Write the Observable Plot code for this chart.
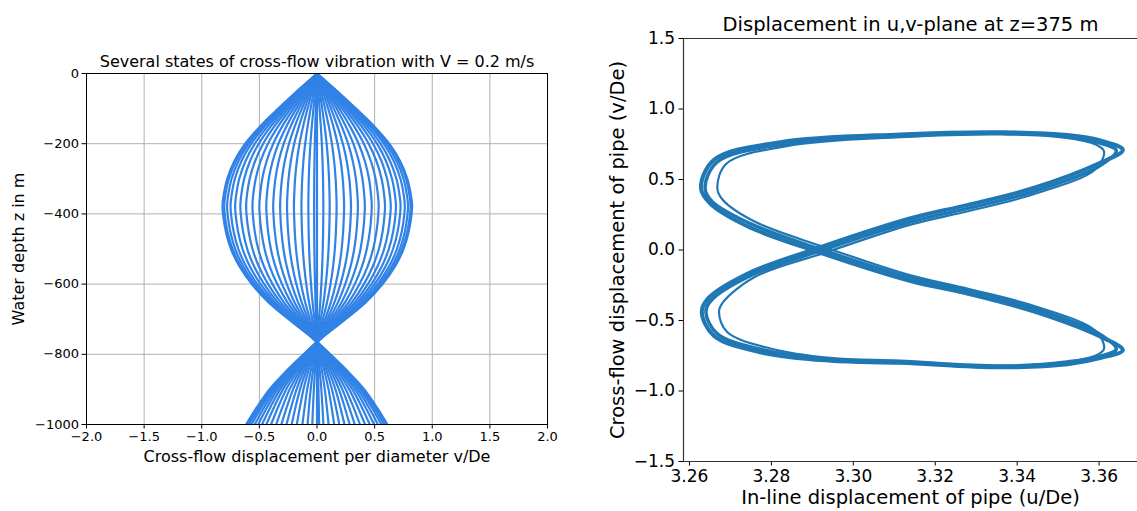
<!DOCTYPE html>
<html><head><meta charset="utf-8">
<script src="https://cdn.jsdelivr.net/npm/d3@7"></script>
<script src="https://cdn.jsdelivr.net/npm/@observablehq/plot@0.6"></script>
<style>
body{margin:0;background:#fff;width:1137px;height:511px;overflow:hidden;position:relative;font-family:"DejaVu Sans",sans-serif;}
#left{position:absolute;left:0;top:0;}
#right{position:absolute;left:580px;top:0;}
</style></head><body>
<div id="left"></div><div id="right"></div>
<script>
// ---------- Left panel data ----------
const leftTitle = "Several states of cross-flow vibration with V = 0.2 m/s";
const leftXLabel = "Cross-flow displacement per diameter v/De";
const leftYLabel = "Water depth z in m";
const leftXTicks = [-2, -1.5, -1, -0.5, 0, 0.5, 1, 1.5, 2];
const leftYTicks = [0, -200, -400, -600, -800, -1000];
// mode shape (normalised to peak = 1)
const shapeDepth = [0, -25, -50, -100, -150, -200, -250, -300, -350, -375, -400, -450, -500, -550, -600, -650, -700, -740, -765, -800, -850, -900, -950, -1000];
const shapeValue = [0, 0.105, 0.21, 0.41, 0.6, 0.76, 0.875, 0.95, 0.99, 1.0, 0.995, 0.965, 0.91, 0.82, 0.69, 0.52, 0.3, 0.11, 0, -0.14, -0.33, -0.5, -0.63, -0.745];
// peak amplitude (v/De) of each plotted state
const stateAmplitude = [0.825, 0.812, 0.79, 0.762, 0.725, 0.685, 0.64, 0.59, 0.535, 0.475, 0.415, 0.355, 0.295, 0.235, 0.17, 0.11, 0.055, 0.0,
  -0.82, -0.805, -0.78, -0.75, -0.71, -0.665, -0.615, -0.56, -0.50, -0.44, -0.38, -0.32, -0.26, -0.20, -0.135, -0.075, -0.025];

// ---------- Right panel data ----------
const rightTitle = "Displacement in u,v-plane at z=375 m";
const rightXLabel = "In-line displacement of pipe (u/De)";
const rightYLabel = "Cross-flow displacement of pipe (v/De)";
const rightXTicks = [3.26, 3.28, 3.30, 3.32, 3.34, 3.36];
const rightYTicks = [-1.5, -1.0, -0.5, 0.0, 0.5, 1.0, 1.5];
const loopA_u = [3.2920, 3.3140, 3.3280, 3.3440, 3.3600, 3.3658, 3.3605, 3.3523, 3.3359, 3.3115, 3.2822, 3.2660, 3.2628, 3.2650, 3.2740, 3.2920, 3.3140, 3.3280, 3.3440, 3.3600, 3.3658, 3.3605, 3.3523, 3.3359, 3.3115, 3.2944, 3.2781, 3.2660, 3.2630, 3.2645, 3.2740];
const loopA_v = [0.02, 0.225, 0.32, 0.44, 0.615, 0.71, 0.775, 0.815, 0.835, 0.82, 0.765, 0.64, 0.44, 0.33, 0.17, -0.02, -0.22, -0.31, -0.435, -0.61, -0.71, -0.765, -0.81, -0.832, -0.80, -0.785, -0.73, -0.61, -0.44, -0.345, -0.17];
const loopB_u = [3.2925, 3.3140, 3.3280, 3.3440, 3.3598, 3.3642, 3.3600, 3.3520, 3.3359, 3.3115, 3.2830, 3.2668, 3.2638, 3.2655, 3.2750, 3.2925, 3.3140, 3.3280, 3.3440, 3.3598, 3.3642, 3.3600, 3.3520, 3.3359, 3.3115, 3.2944, 3.2790, 3.2668, 3.2640, 3.2652, 3.2750];
const loopB_v = [0.0, 0.20, 0.295, 0.415, 0.59, 0.705, 0.76, 0.805, 0.828, 0.81, 0.75, 0.625, 0.44, 0.345, 0.185, 0.0, -0.197, -0.29, -0.412, -0.59, -0.705, -0.755, -0.80, -0.825, -0.792, -0.775, -0.715, -0.595, -0.44, -0.36, -0.18];
const loopC_u = [3.2930, 3.3140, 3.3280, 3.3440, 3.3592, 3.3612, 3.3592, 3.3515, 3.3359, 3.3115, 3.2840, 3.2690, 3.2668, 3.2680, 3.2760, 3.2930, 3.3140, 3.3280, 3.3440, 3.3592, 3.3612, 3.3592, 3.3515, 3.3359, 3.3115, 3.2944, 3.2800, 3.2692, 3.2672, 3.2682, 3.2760];
const loopC_v = [-0.02, 0.18, 0.275, 0.395, 0.575, 0.70, 0.748, 0.797, 0.82, 0.80, 0.738, 0.612, 0.44, 0.36, 0.20, 0.02, -0.18, -0.275, -0.395, -0.575, -0.70, -0.748, -0.792, -0.818, -0.785, -0.765, -0.70, -0.582, -0.44, -0.37, -0.19];

// ---------- helpers ----------
const minus = s => s.replace("-", "\u2212");
const leftRows = [];
stateAmplitude.forEach((a, k) => shapeDepth.forEach((z, i) => leftRows.push({k, z, v: a * shapeValue[i]})));
const toRows = (us, vs) => us.map((u, i) => ({u, v: vs[i]}));

const font = "DejaVu Sans";

const left = Plot.plot({
  width: 560, height: 480,
  marginLeft: 86, marginRight: 13, marginTop: 73, marginBottom: 56,
  style: {fontFamily: font, fontSize: "13px", color: "#000", background: "#fff", overflow: "visible"},
  x: {domain: [-2, 2], ticks: leftXTicks, tickFormat: d => minus(d.toFixed(1)), tickSize: 4.5, tickPadding: 3, label: null},
  y: {domain: [-1000, 0], ticks: leftYTicks, tickFormat: d => minus(String(d)), tickSize: 4.5, tickPadding: 3, label: null},
  marks: [
    Plot.ruleX(leftXTicks, {stroke: "#b0b0b0", strokeWidth: 1}),
    Plot.ruleY(leftYTicks, {stroke: "#b0b0b0", strokeWidth: 1}),
    Plot.line(leftRows, {x: "v", y: "z", z: "k", stroke: "#3182e6", strokeWidth: 2.2, curve: "catmull-rom", clip: true}),
    Plot.frame({stroke: "#000", strokeWidth: 1}),
    Plot.text([leftTitle], {frameAnchor: "top", dy: -12, fontSize: 16, textAnchor: "middle", lineAnchor: "middle"}),
    Plot.text([leftXLabel], {frameAnchor: "bottom", dy: 32, fontSize: 16, textAnchor: "middle", lineAnchor: "middle"}),
    Plot.text([leftYLabel], {frameAnchor: "left", dx: -68, rotate: -90, fontSize: 16, textAnchor: "middle", lineAnchor: "middle"})
  ]
});
document.getElementById("left").append(left);

const xDom = [3.25854, 3.36938];
const right = Plot.plot({
  width: 557, height: 511,
  marginLeft: 103, marginRight: 0, marginTop: 38, marginBottom: 50,
  style: {fontFamily: font, fontSize: "17px", color: "#000", background: "#fff", overflow: "visible"},
  x: {domain: xDom, ticks: rightXTicks, tickFormat: d => d.toFixed(2), tickSize: 4.5, tickPadding: 4, label: null},
  y: {domain: [-1.5, 1.5], ticks: rightYTicks, tickFormat: d => minus(d.toFixed(1)), tickSize: 4.5, tickPadding: 4, label: null},
  marks: [
    Plot.line(toRows(loopA_u, loopA_v), {x: "u", y: "v", stroke: "#1f77b4", strokeWidth: 4, curve: "catmull-rom-closed", clip: true}),
    Plot.line(toRows(loopB_u, loopB_v), {x: "u", y: "v", stroke: "#1f77b4", strokeWidth: 3.5, curve: "catmull-rom-closed", clip: true}),
    Plot.line(toRows(loopC_u, loopC_v), {x: "u", y: "v", stroke: "#1f77b4", strokeWidth: 2.2, curve: "catmull-rom-closed", clip: true}),
    Plot.ruleX([xDom[0]], {stroke: "#333", strokeWidth: 1.2}),
    Plot.ruleY([1.5, -1.5], {stroke: "#333", strokeWidth: 1.2}),
    Plot.text([rightTitle], {frameAnchor: "top", dy: -14, fontSize: 19.5, textAnchor: "middle", lineAnchor: "middle"}),
    Plot.text([rightXLabel], {frameAnchor: "bottom", dy: 36, fontSize: 19.5, textAnchor: "middle", lineAnchor: "middle"}),
    Plot.text([rightYLabel], {frameAnchor: "left", dx: -66, rotate: -90, fontSize: 19.5, textAnchor: "middle", lineAnchor: "middle"})
  ]
});
document.getElementById("right").append(right);
</script></body></html>
